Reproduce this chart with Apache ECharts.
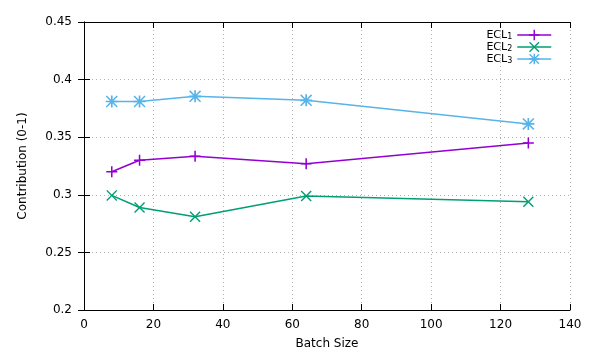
<!DOCTYPE html>
<html><head><meta charset="utf-8">
<script src="https://cdn.jsdelivr.net/npm/echarts@6/dist/echarts.min.js"></script>
<style>html,body{margin:0;padding:0;background:#fff}#c{width:590px;height:361px}</style>
</head><body><div id="c"></div>
<script>
const batchSizes = [8, 16, 32, 64, 128];
const ecl1 = [0.320, 0.330, 0.3335, 0.327, 0.345];
const ecl2 = [0.2995, 0.289, 0.281, 0.299, 0.294];
const ecl3 = [0.381, 0.381, 0.3855, 0.382, 0.3615];
const seriesNames = ['ECL1', 'ECL2', 'ECL3'];
const colors = ['#9400d3', '#009e73', '#56b4e9'];
const xTicks = {min: 0, max: 140, interval: 20};
const yTicks = {min: 0.2, max: 0.45, interval: 0.05};

const plusSym = 'path://M4.3,0h1.4v10h-1.4z M0,4.3h10v1.4h-10z';
const crossSym = 'path://M0.9,0L5,4.1L9.1,0L10,0.9L5.9,5L10,9.1L9.1,10L5,5.9L0.9,10L0,9.1L4.1,5L0,0.9z';
const starSym = 'path://M4.3,0h1.4v10h-1.4z M0,4.3h10v1.4h-10z M0.9,0L5,4.1L9.1,0L10,0.9L5.9,5L10,9.1L9.1,10L5,5.9L0.9,10L0,9.1L4.1,5L0,0.9z';
const symbols = [plusSym, crossSym, starSym];
const sizes = [11, 11, 12];
const datas = [ecl1, ecl2, ecl3];

const font = 'DejaVu Sans';
const chart = echarts.init(document.getElementById('c'), null, {renderer: 'canvas'});
const axisLine = {show: true, lineStyle: {color: '#000', width: 1}};
const series = datas.map((d, i) => ({
  name: seriesNames[i],
  type: 'line',
  data: batchSizes.map((x, j) => [x, d[j]]),
  symbol: symbols[i],
  symbolSize: sizes[i],
  showSymbol: true,
  color: colors[i],
  lineStyle: {width: 1.5, color: colors[i]},
  itemStyle: {color: colors[i]},
  xAxisIndex: 0, yAxisIndex: 0
}));
chart.setOption({
  animation: false,
  backgroundColor: '#fff',
  textStyle: {fontFamily: font},
  grid: {left: 84, right: 20, top: 22, bottom: 51},
  legend: {
    orient: 'vertical', right: 33, top: 24, align: 'right',
    itemWidth: 34, itemHeight: 13, itemGap: 0,
    lineStyle: {width: 1.5},
    data: seriesNames,
    formatter: n => `{m|${n.slice(0,3)}}{s|${n.slice(3)}}`,
    textStyle: {fontFamily: font, color: '#000', rich: {
      m: {fontSize: 11, fontFamily: font, color: '#000', lineHeight: 12},
      s: {fontSize: 8, fontFamily: font, color: '#000', padding: [4, 0, 0, 0], lineHeight: 12}
    }}
  },
  xAxis: [{
    type: 'value', min: xTicks.min, max: xTicks.max, interval: xTicks.interval,
    name: 'Batch Size', nameLocation: 'middle', nameGap: 28,
    nameTextStyle: {fontSize: 12, fontFamily: font, color: '#000'},
    axisLine: axisLine, axisTick: {show: true, inside: true, length: 6, lineStyle: {color: '#000'}},
    axisLabel: {fontSize: 12, fontFamily: font, color: '#000', margin: 9},
    splitLine: {show: true, lineStyle: {color: '#b0b0b0', type: [1, 3], width: 1}}
  }, {
    type: 'value', position: 'top', min: xTicks.min, max: xTicks.max, interval: xTicks.interval,
    axisLine: axisLine, axisTick: {show: true, inside: true, length: 6, lineStyle: {color: '#000'}},
    axisLabel: {show: false}, splitLine: {show: false}
  }],
  yAxis: [{
    type: 'value', min: yTicks.min, max: yTicks.max, interval: yTicks.interval,
    name: 'Contribution (0-1)', nameLocation: 'middle', nameGap: 55,
    nameTextStyle: {fontSize: 12, fontFamily: font, color: '#000'},
    axisLine: axisLine, axisTick: {show: true, inside: true, length: 6, lineStyle: {color: '#000'}},
    axisLabel: {fontSize: 12, fontFamily: font, color: '#000', margin: 12},
    splitLine: {show: true, lineStyle: {color: '#b0b0b0', type: [1, 3], width: 1}}
  }, {
    type: 'value', position: 'right', min: yTicks.min, max: yTicks.max, interval: yTicks.interval,
    axisLine: axisLine, axisTick: {show: true, inside: true, length: 6, lineStyle: {color: '#000'}},
    axisLabel: {show: false}, splitLine: {show: false}
  }],
  series: series
});
</script></body></html>
